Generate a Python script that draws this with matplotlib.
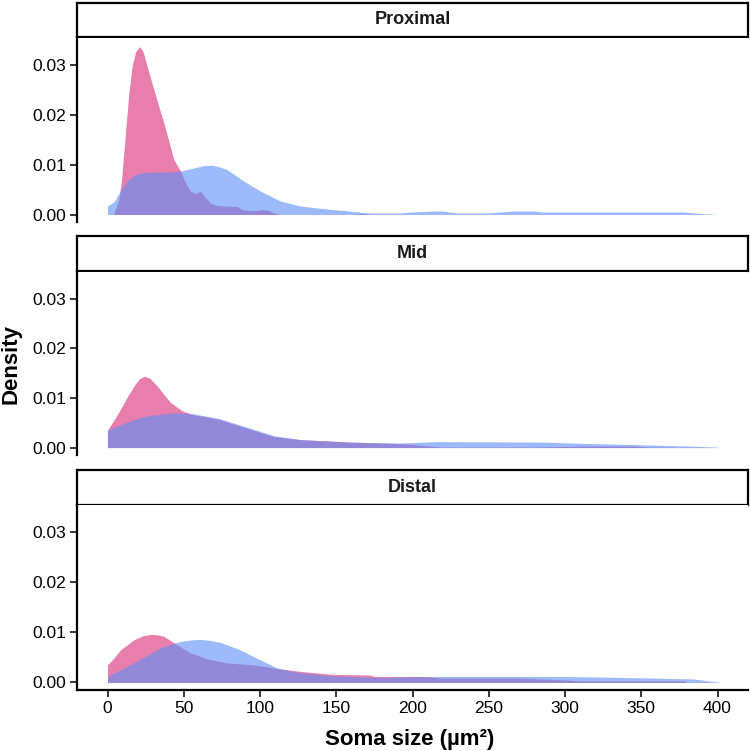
import matplotlib
matplotlib.use('Agg')
import matplotlib.pyplot as plt

plt.rcParams['font.family'] = ['Liberation Sans', 'DejaVu Sans']

W, H = 750, 751

REGIONS = ['Proximal', 'Mid', 'Distal']

# pink group, per region (x in um^2, density)
pink_x = [
    [4, 7.4, 9, 11.8, 14, 16.1, 18.5, 21.2, 23.5, 26, 30.4, 37, 43.5, 47.9, 51, 54.4, 57.5, 61, 64, 67.5, 72, 85, 89, 98,
     102, 106, 109, 113, 159, 167, 175, 400],
    [0, 8.5, 13, 17.3, 21, 24.3, 28, 32.6, 37, 41.3, 49, 56.6, 65, 74, 82, 91.5, 109, 126.6, 159, 192, 205, 214, 220, 280,
     310, 345, 355, 400],
    [0, 4, 8.5, 17.3, 23, 28.2, 33, 37, 45.7, 54.4, 65.3, 78.5, 96, 113.4, 126.6, 148, 172, 175, 210, 218, 268, 300, 312,
     378, 380],
]
pink_y = [
    [0, 0.003, 0.0063, 0.0163, 0.0243, 0.0297, 0.0327, 0.0337, 0.0325, 0.0297, 0.025, 0.0183, 0.011, 0.0087, 0.0065, 0.0047,
     0.0042, 0.0047, 0.0035, 0.0023, 0.0018, 0.0016, 0.0009, 0.0008, 0.0010, 0.0008, 0.0003, 0.0, 0.0, 0.0002, 0.0, 0.0],
    [0.0035, 0.0077, 0.0102, 0.0124, 0.0139, 0.0144, 0.0139, 0.0124, 0.0107, 0.0091, 0.0074, 0.0066, 0.0062, 0.0056, 0.0048,
     0.0039, 0.0022, 0.0016, 0.0011, 0.0008, 0.0005, 0.0002, 0.0001, 0.0001, 0.0003, 0.0003, 0.0001, 0.0],
    [0.0035, 0.0048, 0.0065, 0.0085, 0.0093, 0.0096, 0.0095, 0.0092, 0.0075, 0.0059, 0.0047, 0.0039, 0.0035, 0.0027, 0.0022,
     0.0016, 0.0015, 0.0012, 0.0012, 0.0009, 0.0009, 0.0005, 0.0003, 0.0003, 0.0],
]

# blue group, per region
blue_x = [
    [0, 4.4, 8, 12.9, 17, 21.6, 28.2, 39.1, 47.9, 58.8, 63, 68.6, 73, 78.5, 89.4, 100.3, 113.4, 126.6, 144, 159, 172, 192,
     199, 214, 220, 229, 249, 266, 280, 285, 378, 385, 400],
    [0, 17.3, 28.2, 43.5, 56.6, 74, 91.5, 109, 126.6, 159, 192, 216, 286, 317, 345, 382, 400],
    [0, 17.3, 34.7, 47.9, 55, 61, 67, 74, 87, 100.3, 111, 126.6, 148.4, 179, 218, 301, 356, 384, 400],
]
blue_y = [
    [0.0017, 0.0026, 0.0045, 0.0067, 0.0078, 0.0083, 0.0085, 0.0085, 0.0087, 0.0095, 0.0098, 0.0099, 0.0096, 0.009, 0.0067,
     0.0047, 0.0027, 0.0017, 0.0011, 0.0007, 0.0003, 0.0003, 0.0005, 0.0007, 0.0007, 0.0003, 0.0003, 0.0007, 0.0007, 0.0005,
     0.0005, 0.0003, 0.0],
    [0.0035, 0.0057, 0.0065, 0.0070, 0.0068, 0.0058, 0.0041, 0.0024, 0.0016, 0.0011, 0.0009, 0.0012, 0.0011, 0.0008, 0.0006,
     0.0003, 0.0001],
    [0.0012, 0.0039, 0.0069, 0.0082, 0.0085, 0.0086, 0.0084, 0.0080, 0.0065, 0.0045, 0.0029, 0.0019, 0.0013, 0.0010, 0.0012,
     0.0012, 0.0009, 0.0007, 0.0001],
]

x_ticks = [0, 50, 100, 150, 200, 250, 300, 350, 400]
y_ticks = [0.00, 0.01, 0.02, 0.03]
y_labels = ['0.00', '0.01', '0.02', '0.03']

PINK = '#DE4788'
BLUE = '#5C8EF7'


def px_box(left, top, right, bottom):
    return [left / W, 1 - bottom / H, (right - left) / W, (bottom - top) / H]


fig = plt.figure(figsize=(W / 100, H / 100), dpi=100)

# (strip top, strip bottom, panel top, panel bottom) in pixels
rows = [(3, 37, 38, 222), (236, 271, 272, 455), (470, 505, 505, 690)]
L, R = 77, 748

for i, name in enumerate(REGIONS):
    st, sb, pt, pb = rows[i]
    sax = fig.add_axes(px_box(L, st, R, sb))
    sax.set_xticks([])
    sax.set_yticks([])
    for s in sax.spines.values():
        s.set_linewidth(1.6)
    sax.text(0.5, 0.5, name, ha='center', va='center', fontsize=13, fontweight='bold', color='#1a1a1a',
             transform=sax.transAxes)

    ax = fig.add_axes(px_box(L, pt, R, pb))
    ax.fill_between(pink_x[i], pink_y[i], 0, color=PINK, alpha=0.7, linewidth=0)
    ax.fill_between(blue_x[i], blue_y[i], 0, color=BLUE, alpha=0.6, linewidth=0)
    ax.set_xlim(-20, 420)
    ax.set_ylim(-0.0015, 0.0354)
    ax.spines['top'].set_visible(False)
    ax.spines['right'].set_visible(False)
    ax.spines['left'].set_linewidth(1.6)
    ax.spines['bottom'].set_linewidth(1.6)
    ax.set_yticks(y_ticks)
    ax.set_yticklabels(y_labels)
    ax.tick_params(axis='y', length=5, width=1.1, pad=3, labelsize=12.5)
    if i < 2:
        ax.spines['bottom'].set_visible(False)
        ax.set_xticks([])
    else:
        ax.set_xticks(x_ticks)
        ax.tick_params(axis='x', length=5, width=1.1, pad=3, labelsize=12.5)

fig.text(11 / W, 1 - 364 / H, 'Density', rotation=90, ha='center', va='center', fontsize=16, fontweight='bold')
fig.text(410 / W, 1 - 739 / H, 'Soma size (µm²)', ha='center', va='center', fontsize=16, fontweight='bold')

fig.savefig('out.png', dpi=100)
